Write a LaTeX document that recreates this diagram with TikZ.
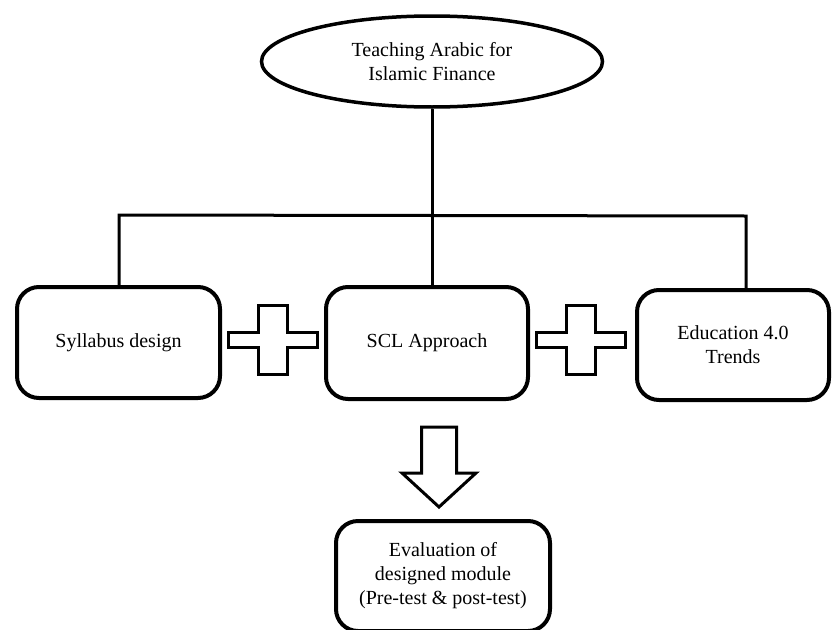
\documentclass[tikz,border=0pt]{standalone}
\usepackage{fontspec}
\setmainfont{Liberation Serif}
\usepackage{tikz}
\usetikzlibrary{shapes.geometric,calc,positioning}
\tikzstyle{topic} = [draw, ellipse, line width=3.5pt, minimum width=341pt,
    minimum height=91pt, inner sep=0pt, align=center,
    font=\fontsize{20}{24}\selectfont]
\tikzstyle{stage} = [draw, rectangle, rounded corners=22pt, line width=4pt,
    inner sep=0pt, align=center, font=\fontsize{20}{24}\selectfont]
\tikzstyle{link} = [line width=3pt]
\tikzstyle{plusline} = [line width=3pt, fill=white]
% plus sign between two boxes
\newcommand{\plusmark}[1]{%
  \draw[plusline] (#1) ++(-44.5,-7.5) -- ++(30,0) -- ++(0,-27) -- ++(29,0)
    -- ++(0,27) -- ++(30,0) -- ++(0,15) -- ++(-30,0) -- ++(0,27)
    -- ++(-29,0) -- ++(0,-27) -- ++(-30,0) -- cycle;}

\begin{document}
\begin{tikzpicture}[x=1pt,y=-1pt]
\useasboundingbox (0,0) rectangle (832,629);
\clip (0,0) rectangle (832,629);

\node[topic] (title) at (432,61.5) {Teaching Arabic for\\Islamic Finance};

\node[stage, minimum width=203pt, minimum height=111pt] (syl) at (118.5,342.5) {Syllabus design};
\node[stage, minimum width=202pt, minimum height=112pt] (scl) at (427,343) {SCL Approach};
\node[stage, minimum width=192pt, minimum height=110pt] (edu) at (733,345) {Education 4.0\\Trends};
\node[stage, minimum width=214pt, minimum height=110pt] (eval) at (443,576)
    {Evaluation of\\designed module\\(Pre-test \& post-test)};

% tree lines
\coordinate (jL) at (119,215);
\coordinate (jR) at (746,216);
\draw[link] (title.south) -- (title.south |- scl.north);
\draw[link] (jL |- syl.north) -- (jL) -- (jR) -- (jR |- edu.north);

% plus signs
\coordinate (plusL) at (272.5,339.5);
\coordinate (plusR) at (580.5,339.5);
\plusmark{plusL}
\plusmark{plusR}

% block arrow down to evaluation
\coordinate (down) at (439,427);
\draw[link, fill=white] (down) ++(-17.5,0) -- ++(35,0) -- ++(0,46) -- ++(19.5,0)
    -- ++(-37,34) -- ++(-37,-34) -- ++(19.5,0) -- cycle;
\end{tikzpicture}
\end{document}
